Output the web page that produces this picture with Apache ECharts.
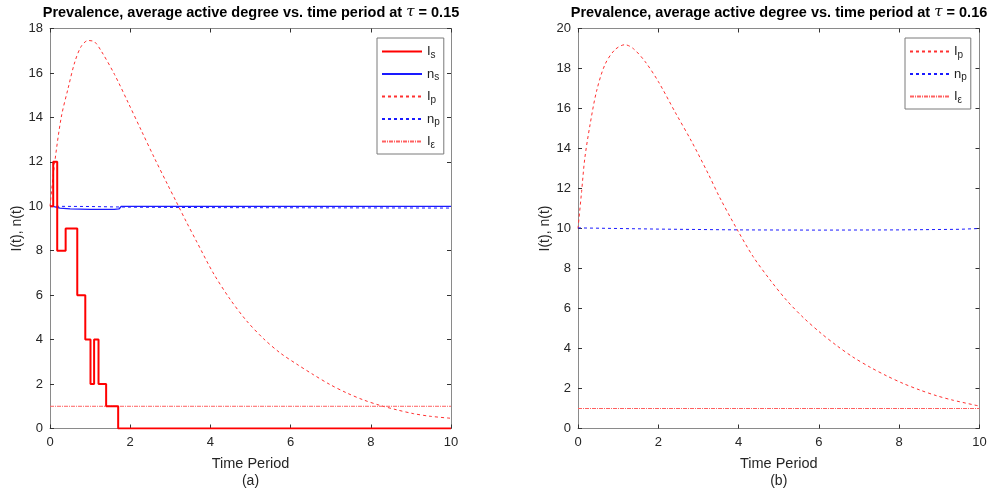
<!DOCTYPE html>
<html><head><meta charset="utf-8">
<script src="https://cdn.jsdelivr.net/npm/echarts@6/dist/echarts.min.js"></script>
<style>html,body{margin:0;padding:0;background:#fff}#c{width:990px;height:489px}</style>
</head><body><div id="c"></div>
<script>
// ---- Data (a) tau = 0.15 ----
const aIsT = [0, 0.08, 0.18, 0.39, 0.68, 0.88, 1.01, 1.10, 1.21, 1.40, 1.70, 10];
const aIsV = [10, 12, 8, 9, 6, 4, 2, 4, 2, 1, 0, 0];
const aNsT = [0, 0.1, 0.25, 0.5, 1.0, 1.6, 1.72, 1.78, 10];
const aNsV = [10, 9.98, 9.92, 9.88, 9.86, 9.86, 9.88, 10.0, 10.0];
const aIpT = [0, 0.12, 0.28, 0.45, 0.62, 0.78, 0.95, 1.11, 1.28, 1.61, 1.95, 2.28, 2.61, 2.94, 3.15, 3.40, 3.66, 4.07, 4.49, 4.90, 5.32, 5.74, 6.15, 6.57, 6.98, 7.40, 7.81, 8.23, 8.65, 9.06, 9.48, 10];
const aIpV = [10, 12.0, 14.0, 15.3, 16.5, 17.2, 17.46, 17.4, 16.98, 15.93, 14.66, 13.4, 12.15, 10.95, 10.2, 9.3, 8.4, 7.0, 5.82, 4.85, 4.05, 3.4, 2.9, 2.42, 1.98, 1.6, 1.29, 1.04, 0.84, 0.67, 0.55, 0.46];
const aNpT = [0, 1, 2, 4, 10];
const aNpV = [10, 9.99, 9.96, 9.94, 9.92];
const aIeT = [0, 10];
const aIeV = [1, 1];
// ---- Data (b) tau = 0.16 ----
const bIpT = [0, 0.09, 0.17, 0.30, 0.46, 0.67, 0.92, 1.17, 1.38, 1.67, 2.0, 2.41, 2.83, 3.24, 3.53, 3.95, 4.36, 4.78, 5.2, 5.61, 6.03, 6.44, 6.85, 7.27, 7.69, 8.1, 8.52, 8.93, 9.35, 10];
const bIpV = [10, 11.85, 13.52, 15.19, 16.85, 18.19, 18.94, 19.19, 18.99, 18.35, 17.35, 15.85, 14.35, 12.75, 11.55, 10.0, 8.6, 7.44, 6.4, 5.55, 4.8, 4.15, 3.57, 3.07, 2.63, 2.25, 1.92, 1.64, 1.41, 1.12];
const bNpT = [0, 2, 4, 6, 8, 9.5, 10];
const bNpV = [10.03, 9.97, 9.93, 9.92, 9.93, 9.96, 10.0];
const bIeT = [0, 10];
const bIeV = [1, 1];
// ---- Axis ticks ----
const xTicks = [0, 2, 4, 6, 8, 10];
const aYMax = 18, bYMax = 20, yStep = 2;

const zip = (t, v) => t.map((x, i) => [x, v[i]]);
const FONT = 'Liberation Sans, Arial, Helvetica, sans-serif';
const RED = '#ff3030', LRED = '#ff6060', BLUE = '#1a1aff';

const legendNames = {
  Is: '{m|I}{s|s}', ns: '{m|n}{s|s}', Ip: '{m|I}{s|p}', np: '{m|n}{s|p}', Ie: '{m|I}{s|ε}',
  Ip2: '{m|I}{s|p}', np2: '{m|n}{s|p}', Ie2: '{m|I}{s|ε}'
};
const legendRich = {
  m: { fontSize: 13, color: '#222', fontFamily: FONT, lineHeight: 13 },
  s: { fontSize: 10, color: '#222', fontFamily: FONT, padding: [7, 0, 0, 0], lineHeight: 10 }
};

function xAx(grid, top) {
  return {
    type: 'value', gridIndex: grid, min: 0, max: 10, interval: 2,
    position: top ? 'top' : 'bottom',
    axisLine: { show: true, onZero: false, lineStyle: { color: '#8a8a8a', width: 1 } },
    axisTick: { show: true, inside: true, length: 4, lineStyle: { color: '#333' } },
    axisLabel: { show: !top, color: '#262626', fontSize: 13, fontFamily: FONT, margin: 7 },
    splitLine: { show: false },
    name: top ? '' : 'Time Period\n{p|(' + (grid === 0 ? 'a' : 'b') + ')}',
    nameLocation: 'middle', nameGap: 26,
    nameTextStyle: { color: '#262626', fontSize: 14.5, fontFamily: FONT, lineHeight: 18,
      rich: { p: { fontSize: 14, color: '#262626', fontFamily: FONT, lineHeight: 18 } } }
  };
}
function yAx(grid, max, right) {
  return {
    type: 'value', gridIndex: grid, min: 0, max: max, interval: yStep,
    position: right ? 'right' : 'left',
    axisLine: { show: true, onZero: false, lineStyle: { color: '#8a8a8a', width: 1 } },
    axisTick: { show: true, inside: true, length: 4, lineStyle: { color: '#333' } },
    axisLabel: { show: !right, color: '#262626', fontSize: 13, fontFamily: FONT, margin: 7 },
    splitLine: { show: false },
    name: right ? '' : 'I(t), n(t)', nameLocation: 'middle', nameGap: 26,
    nameTextStyle: { color: '#262626', fontSize: 14, fontFamily: FONT }
  };
}
function ser(name, t, v, xi, yi, color, width, type, extra) {
  return Object.assign({
    name: name, type: 'line', xAxisIndex: xi, yAxisIndex: yi, data: zip(t, v),
    symbol: 'none', showSymbol: false, animation: false,
    lineStyle: { color: color, width: width, type: type }, itemStyle: { color: color }
  }, extra || {});
}
const dashed = [3, 3];
const dashDot = [4, 1, 1, 1];
const titleStyle = {
  fontSize: 14.5, fontWeight: 'bold', color: '#000', fontFamily: FONT,
  rich: { t: { fontSize: 15, fontStyle: 'italic', fontWeight: 'normal', fontFamily: 'DejaVu Serif, serif', color: '#000' } }
};
const legendBase = {
  orient: 'vertical', top: 38, itemHeight: 14, itemGap: 5.5, padding: [5, 4, 4, 4],
  borderColor: '#7a7a7a', borderWidth: 1, backgroundColor: '#fff',
  itemStyle: { opacity: 0 },
  formatter: n => legendNames[n], textStyle: { rich: legendRich }, selectedMode: false
};

const option = {
  backgroundColor: '#fff',
  animation: false,
  title: [
    { text: 'Prevalence, average active degree vs. time period at {t|τ} = 0.15', left: 251, top: 5, textAlign: 'center', textStyle: titleStyle, padding: 0 },
    { text: 'Prevalence, average active degree vs. time period at {t|τ} = 0.16', left: 779, top: 5, textAlign: 'center', textStyle: titleStyle, padding: 0 }
  ],
  grid: [
    { left: 50, right: 539, top: 28.5, bottom: 60.5, outerBoundsMode: 'none', containLabel: false },
    { left: 578, right: 10.5, top: 28.5, bottom: 60.5, outerBoundsMode: 'none', containLabel: false }
  ],
  xAxis: [xAx(0, false), xAx(0, true), xAx(1, false), xAx(1, true)],
  yAxis: [yAx(0, aYMax, false), yAx(0, aYMax, true), yAx(1, bYMax, false), yAx(1, bYMax, true)],
  legend: [
    Object.assign({}, legendBase, { data: ['Is', 'ns', 'Ip', 'np', 'Ie'], left: 377, itemWidth: 40 }),
    Object.assign({}, legendBase, { data: ['Ip2', 'np2', 'Ie2'], left: 905, itemWidth: 39 })
  ],
  series: [
    ser('Ip', aIpT, aIpV, 0, 0, RED, 1, dashed, { smooth: 0.3 }),
    ser('np', aNpT, aNpV, 0, 0, BLUE, 1, dashed),
    ser('Ie', aIeT, aIeV, 0, 0, LRED, 1, dashDot),
    ser('ns', aNsT, aNsV, 0, 0, BLUE, 1.3, 'solid'),
    ser('Is', aIsT, aIsV, 0, 0, '#ff0000', 2, 'solid', { step: 'end' }),
    ser('Ip2', bIpT, bIpV, 2, 2, RED, 1, dashed, { smooth: 0.3 }),
    ser('np2', bNpT, bNpV, 2, 2, BLUE, 1, dashed),
    ser('Ie2', bIeT, bIeV, 2, 2, LRED, 1, dashDot)
  ]
};
const chart = echarts.init(document.getElementById('c'), null, { renderer: 'canvas' });
chart.setOption(option);
</script>
</body></html>
